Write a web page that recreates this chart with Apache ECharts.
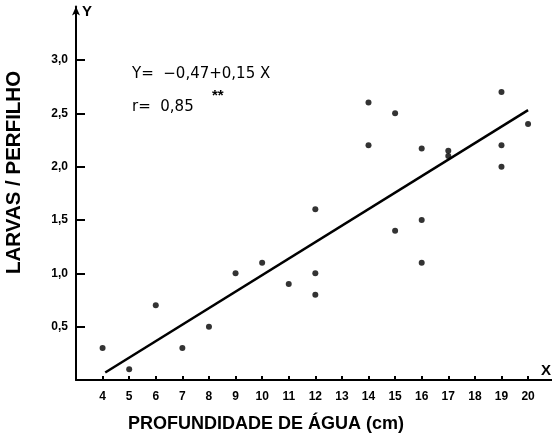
<!DOCTYPE html>
<html>
<head>
<meta charset="utf-8">
<script src="https://cdn.jsdelivr.net/npm/echarts@6/dist/echarts.min.js"></script>
<style>
  html, body { margin: 0; padding: 0; background: #fff; }
  #chart { width: 552px; height: 440px; }
</style>
</head>
<body>
<div id="chart"></div>
<script>
// profundidade de agua (cm) x larvas / perfilho
const depth = [4, 5, 6, 7, 8, 9, 10, 11, 12, 12, 12, 14, 14, 15, 15, 16, 16, 16, 17, 17, 19, 19, 19, 20]
const larvae = [0.3, 0.1, 0.7, 0.3, 0.5, 1.0, 1.1, 0.9, 1.6, 1.0, 0.8, 2.6, 2.2, 2.5, 1.4, 2.17, 1.5, 1.1, 2.15, 2.1, 2.7, 2.2, 2.0, 2.4]
// fitted line as drawn in the figure
const fitX = [4.1, 20]
const fitY = [0.07, 2.53]
const xTicks = [4, 5, 6, 7, 8, 9, 10, 11, 12, 13, 14, 15, 16, 17, 18, 19, 20]
const yTicks = [0.5, 1.0, 1.5, 2.0, 2.5, 3.0]

const font = 'Liberation Sans'
const textFont = 'DejaVu Sans'
const dom = echarts.init(document.getElementById('chart'))

const option = {
  animation: false,
  grid: {
    left: 76,
    right: 0,
    top: 6.6,
    bottom: 60
  },
  xAxis: {
    type: 'value',
    min: 3,
    max: 20.9,
    axisLine: {
      lineStyle: { color: '#000', width: 2 }
    },
    axisTick: {
      inside: true,
      length: 4,
      customValues: xTicks,
      lineStyle: { color: '#000', width: 2 }
    },
    axisLabel: {
      customValues: xTicks,
      margin: 11,
      color: '#000',
      fontFamily: font,
      fontWeight: 'bold',
      fontSize: 12
    },
    splitLine: { show: false }
  },
  yAxis: {
    type: 'value',
    min: 0,
    max: 3.5,
    axisLine: {
      show: true,
      symbol: ['none', 'arrow'],
      symbolSize: [6, 9],
      lineStyle: { color: '#000', width: 2 }
    },
    axisTick: {
      show: true,
      inside: true,
      length: 9,
      customValues: yTicks,
      lineStyle: { color: '#000', width: 2 }
    },
    axisLabel: {
      customValues: yTicks,
      margin: 8,
      color: '#000',
      fontFamily: font,
      fontWeight: 'bold',
      fontSize: 12,
      formatter: function (v) {
        return v.toFixed(1).replace('.', ',')
      }
    },
    splitLine: { show: false }
  },
  graphic: [
    {
      type: 'text',
      left: 82,
      top: 4,
      style: { text: 'Y', fill: '#000', font: 'bold 15px ' + font }
    },
    {
      type: 'text',
      left: 541,
      top: 363,
      style: { text: 'X', fill: '#000', font: 'bold 15px ' + font }
    },
    {
      type: 'text',
      left: 132,
      top: 67,
      style: { text: 'Y=  −0,47+0,15 X', fill: '#000', font: '15px ' + textFont }
    },
    {
      type: 'text',
      left: 132,
      top: 100,
      style: { text: 'r=  0,85', fill: '#000', font: '15px ' + textFont }
    },
    {
      type: 'text',
      left: 212,
      top: 88,
      style: { text: '**', fill: '#000', font: 'bold 15px ' + font }
    },
    {
      type: 'text',
      left: 128,
      top: 415,
      style: { text: 'PROFUNDIDADE DE ÁGUA (cm)', fill: '#000', font: 'bold 18px ' + font }
    },
    {
      type: 'text',
      rotation: Math.PI / 2,
      x: 4,
      y: 274,
      style: { text: 'LARVAS / PERFILHO', fill: '#000', font: 'bold 20.5px ' + font }
    }
  ],
  series: [
    {
      type: 'scatter',
      symbol: 'circle',
      symbolSize: 6,
      itemStyle: { color: '#000' },
      data: depth.map((d, i) => [d, larvae[i]])
    },
    {
      type: 'line',
      symbol: 'none',
      lineStyle: { color: '#000', width: 2.5 },
      data: fitX.map((d, i) => [d, fitY[i]])
    }
  ]
}
dom.setOption(option)
</script>
</body>
</html>
